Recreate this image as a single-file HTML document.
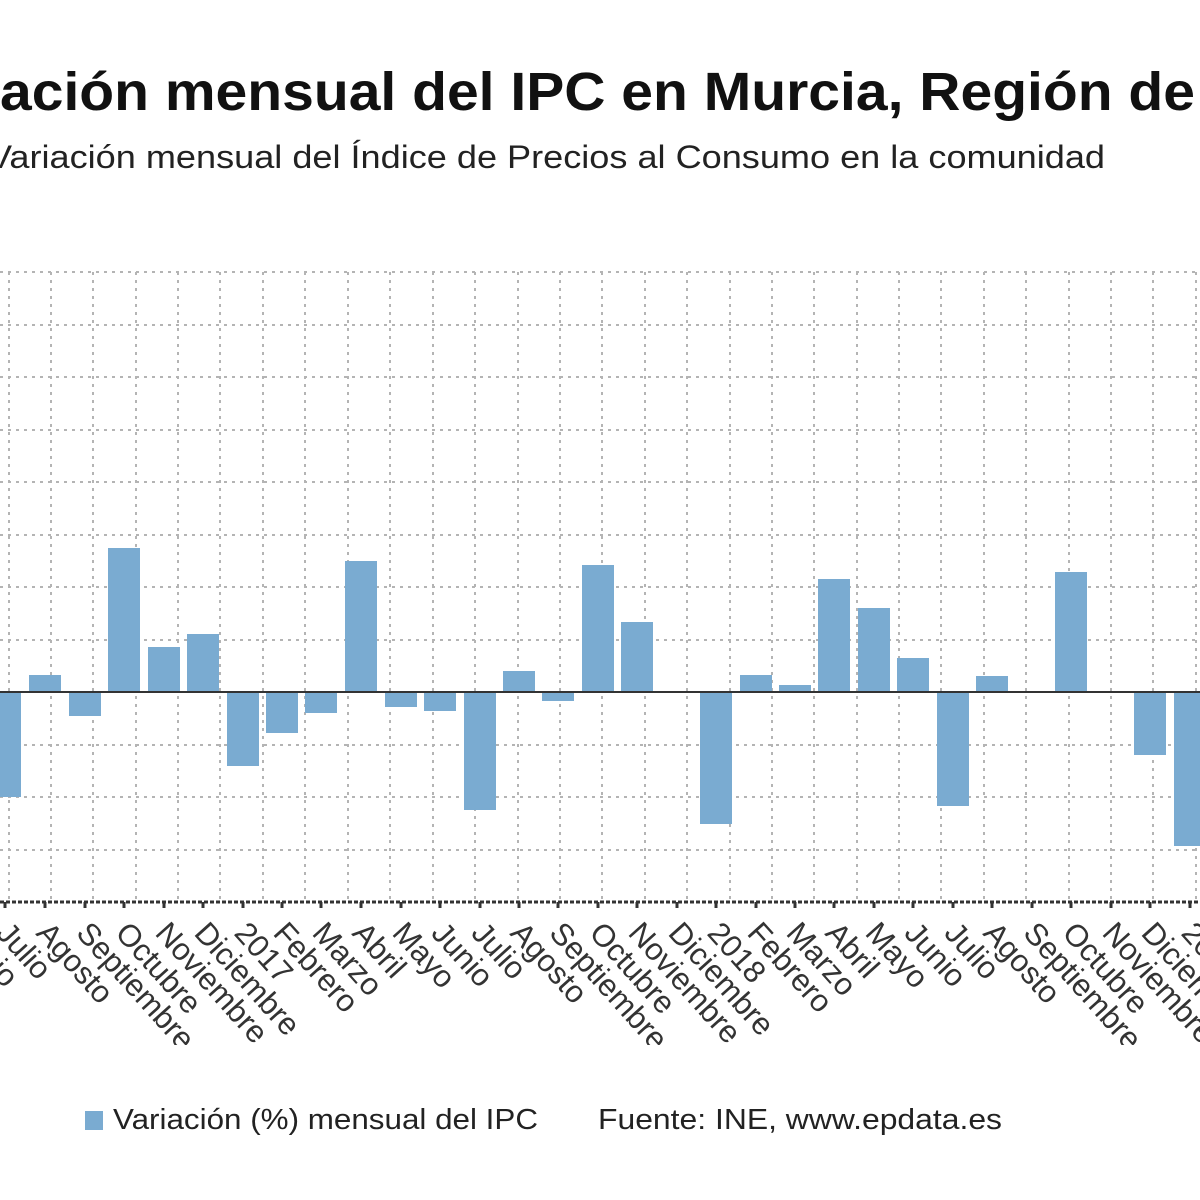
<!DOCTYPE html>
<html><head><meta charset="utf-8"><style>html,body{margin:0;padding:0;background:#fff;width:1200px;height:1200px;overflow:hidden}</style></head>
<body>
<svg width="1200" height="1200" xmlns="http://www.w3.org/2000/svg" font-family="Liberation Sans, sans-serif">
<rect width="1200" height="1200" fill="#fff"/>
<text x="0" y="110" font-size="54" font-weight="bold" fill="#111" textLength="1195" lengthAdjust="spacingAndGlyphs">ación mensual del IPC en Murcia, Región de</text>
<text x="-12" y="168" font-size="32" fill="#222" textLength="1117" lengthAdjust="spacingAndGlyphs">Variación mensual del Índice de Precios al Consumo en la comunidad</text>
<g stroke="#b4b4b4" stroke-width="2" stroke-dasharray="3,5" fill="none">
<path d="M0 272H1200M0 325H1200M0 377H1200M0 430H1200M0 482H1200M0 535H1200M0 587H1200M0 640H1200M0 745H1200M0 797H1200M0 850H1200"/>
<path d="M9 272V902M51 272V902M93 272V902M136 272V902M178 272V902M220 272V902M263 272V902M305 272V902M348 272V902M390 272V902M433 272V902M475 272V902M518 272V902M560 272V902M602 272V902M645 272V902M687 272V902M730 272V902M772 272V902M814 272V902M857 272V902M899 272V902M941 272V902M984 272V902M1026 272V902M1069 272V902M1111 272V902M1153 272V902M1196 272V902"/>
</g>
<g fill="#7aabd1">
<rect x="-11" y="692" width="32" height="105"/>
<rect x="29" y="675" width="32" height="17"/>
<rect x="69" y="692" width="32" height="24"/>
<rect x="108" y="548" width="32" height="144"/>
<rect x="148" y="647" width="32" height="45"/>
<rect x="187" y="634" width="32" height="58"/>
<rect x="227" y="692" width="32" height="74"/>
<rect x="266" y="692" width="32" height="41"/>
<rect x="305" y="692" width="32" height="21"/>
<rect x="345" y="561" width="32" height="131"/>
<rect x="385" y="692" width="32" height="15"/>
<rect x="424" y="692" width="32" height="19"/>
<rect x="464" y="692" width="32" height="118"/>
<rect x="503" y="671" width="32" height="21"/>
<rect x="542" y="692" width="32" height="9"/>
<rect x="582" y="565" width="32" height="127"/>
<rect x="621" y="622" width="32" height="70"/>
<rect x="661" y="691" width="32" height="2"/>
<rect x="700" y="692" width="32" height="132"/>
<rect x="740" y="675" width="32" height="17"/>
<rect x="779" y="685" width="32" height="7"/>
<rect x="818" y="579" width="32" height="113"/>
<rect x="858" y="608" width="32" height="84"/>
<rect x="897" y="658" width="32" height="34"/>
<rect x="937" y="692" width="32" height="114"/>
<rect x="976" y="676" width="32" height="16"/>
<rect x="1055" y="572" width="32" height="120"/>
<rect x="1134" y="692" width="32" height="63"/>
<rect x="1174" y="692" width="32" height="154"/>
</g>
<path d="M0 692H1200" stroke="#333" stroke-width="2"/>
<path d="M0 902H1200" stroke="#333" stroke-width="3" stroke-dasharray="4,2"/>
<g stroke="#333" stroke-width="3">
<path d="M5 902v6M45 902v6M85 902v6M124 902v6M164 902v6M203 902v6M243 902v6M282 902v6M321 902v6M361 902v6M401 902v6M440 902v6M480 902v6M519 902v6M558 902v6M598 902v6M637 902v6M677 902v6M716 902v6M756 902v6M795 902v6M834 902v6M874 902v6M913 902v6M953 902v6M992 902v6M1032 902v6M1071 902v6M1111 902v6M1150 902v6M1190 902v6"/>
</g>
<defs><clipPath id="c"><rect x="0" y="905" width="1200" height="140"/></clipPath></defs>
<g clip-path="url(#c)" font-size="31" fill="#333">
<g transform="translate(21,4)">
<text transform="translate(-66,930) rotate(48)">Junio</text>
<text transform="translate(-26,930) rotate(48)">Julio</text>
<text transform="translate(14,930) rotate(48)">Agosto</text>
<text transform="translate(54,930) rotate(48)">Septiembre</text>
<text transform="translate(93,930) rotate(48)">Octubre</text>
<text transform="translate(133,930) rotate(48)">Noviembre</text>
<text transform="translate(172,930) rotate(48)">Diciembre</text>
<text transform="translate(212,930) rotate(48)">2017</text>
<text transform="translate(251,930) rotate(48)">Febrero</text>
<text transform="translate(290,930) rotate(48)">Marzo</text>
<text transform="translate(330,930) rotate(48)">Abril</text>
<text transform="translate(370,930) rotate(48)">Mayo</text>
<text transform="translate(409,930) rotate(48)">Junio</text>
<text transform="translate(449,930) rotate(48)">Julio</text>
<text transform="translate(488,930) rotate(48)">Agosto</text>
<text transform="translate(527,930) rotate(48)">Septiembre</text>
<text transform="translate(567,930) rotate(48)">Octubre</text>
<text transform="translate(606,930) rotate(48)">Noviembre</text>
<text transform="translate(646,930) rotate(48)">Diciembre</text>
<text transform="translate(685,930) rotate(48)">2018</text>
<text transform="translate(725,930) rotate(48)">Febrero</text>
<text transform="translate(764,930) rotate(48)">Marzo</text>
<text transform="translate(803,930) rotate(48)">Abril</text>
<text transform="translate(843,930) rotate(48)">Mayo</text>
<text transform="translate(882,930) rotate(48)">Junio</text>
<text transform="translate(922,930) rotate(48)">Julio</text>
<text transform="translate(961,930) rotate(48)">Agosto</text>
<text transform="translate(1001,930) rotate(48)">Septiembre</text>
<text transform="translate(1040,930) rotate(48)">Octubre</text>
<text transform="translate(1080,930) rotate(48)">Noviembre</text>
<text transform="translate(1119,930) rotate(48)">Diciembre</text>
<text transform="translate(1159,930) rotate(48)">2019</text>
</g>
</g>
<rect x="85" y="1111" width="18" height="19" fill="#7aabd1"/>
<text x="113" y="1129" font-size="29" fill="#222" textLength="425" lengthAdjust="spacingAndGlyphs">Variación (%) mensual del IPC</text>
<text x="598" y="1129" font-size="29" fill="#222" textLength="404" lengthAdjust="spacingAndGlyphs">Fuente: INE, www.epdata.es</text>
</svg>
</body></html>
